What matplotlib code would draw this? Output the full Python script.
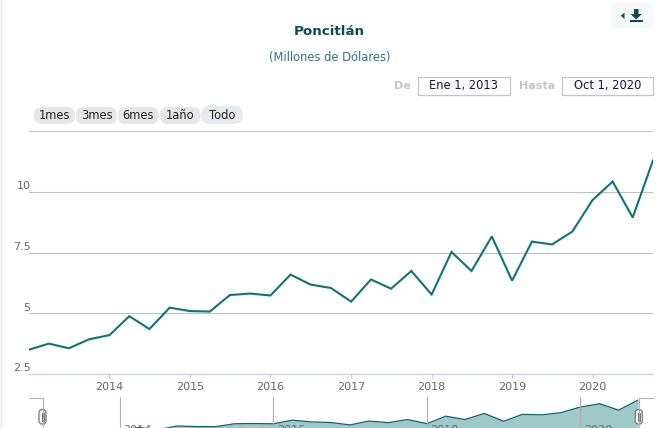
import matplotlib
matplotlib.use('Agg')
import matplotlib.pyplot as plt
import matplotlib.dates as mdates
import pandas as pd
from matplotlib.patches import FancyBboxPatch, Polygon, Rectangle

W, H = 659, 428

# valores trimestrales, ene 2013 a oct 2020
fechas = pd.date_range('2013-01-01', '2020-10-01', freq='QS')
valores = [3.50, 3.75, 3.56, 3.93, 4.10, 4.88, 4.35, 5.23,
           5.09, 5.07, 5.75, 5.81, 5.73, 6.59, 6.18, 6.04,
           5.48, 6.39, 6.01, 6.74, 5.77, 7.52, 6.74, 8.16,
           6.34, 7.95, 7.83, 8.36, 9.66, 10.42, 8.94, 11.29]

y_ticks = [2.5, 5, 7.5, 10, 12.5]
y_labels = ['2.5', '5', '7.5', '10', '']
x_years = [2014, 2015, 2016, 2017, 2018, 2019, 2020]
nav_years = [2014, 2016, 2018, 2020]
botones = ['1mes', '3mes', '6mes', '1año', 'Todo']

VERDE = '#0f7378'
GRID = '#c0c0c0'
EJE = '#c0d0e0'
TXT = '#666666'


def caja(x0, y0, x1, y1):
    # pixeles de la imagen a coordenadas de figura
    return [x0 / W, 1 - y1 / H, (x1 - x0) / W, (y1 - y0) / H]


fig = plt.figure(figsize=(W / 100, H / 100), dpi=100, facecolor='white')

# capa de fondo en pixeles para la tarjeta y los controles
ui = fig.add_axes([0, 0, 1, 1], zorder=0)
ui.set_xlim(0, W)
ui.set_ylim(H, 0)
ui.axis('off')

ui.add_patch(FancyBboxPatch((1.5, -8), W + 10, H + 30, boxstyle='round,pad=0,rounding_size=7',
                            fc='white', ec='#e8e8e8', lw=1.2))

ui.text(329.5, 31.5, 'Poncitlán', ha='center', va='center', fontsize=9.7, fontweight='bold', color='#0b4a55')
ui.text(330, 57.5, '(Millones de Dólares)', ha='center', va='center', fontsize=8.3, color='#2f7480')

# boton de descarga
ui.add_patch(FancyBboxPatch((611, 3), 42, 25, boxstyle='round,pad=0,rounding_size=3', fc='#f6f7f8', ec='none'))
ui.add_patch(Polygon([(624.5, 12.5), (624.5, 19), (620.8, 15.8)], fc='#0b4a55', ec='none'))
ui.add_patch(Polygon([(634, 9), (638.5, 9), (638.5, 14), (642, 14), (636.2, 19.5), (630.5, 14), (634, 14)],
                     fc='#0b4a55', ec='none'))
ui.add_patch(Rectangle((630, 19.5), 12.5, 2.3, fc='#0b4a55', ec='none'))

# selector de fechas
ui.text(402, 85.5, 'De', ha='center', va='center', fontsize=8, fontweight='bold', color='#c4c4c4')
ui.text(537.5, 85.5, 'Hasta', ha='center', va='center', fontsize=8, fontweight='bold', color='#c4c4c4')
for x0, x1, s in [(417.5, 509.5, 'Ene 1, 2013'), (561.5, 653, 'Oct 1, 2020')]:
    ui.add_patch(Rectangle((x0, 76.5), x1 - x0, 18, fc='white', ec='#c4c4c4', lw=0.9))
    ui.text((x0 + x1) / 2, 85.5, s, ha='center', va='center', fontsize=8.3, color='#15153c')

# botones de rango
for i, b in enumerate(botones):
    x0 = 34 + i * 41.9
    color = '#e4ebf0' if b == 'Todo' else '#e6e6e6'
    y0 = 106 if b == 'Todo' else 107
    ui.add_patch(FancyBboxPatch((x0, y0), 41, 124 - y0, boxstyle='round,pad=0,rounding_size=8', fc=color, ec='none'))
    ui.text(x0 + 20.5, 115.5, b, ha='center', va='center', fontsize=8.3, color='#222222')

# grafica principal
ax = fig.add_axes(caja(29, 131, 653, 374), zorder=1)
ax.patch.set_alpha(0)
ax.plot(fechas, valores, color=VERDE, lw=1.5, solid_joinstyle='miter', clip_on=True)
ax.set_xlim(fechas[0], fechas[-1])
ax.set_ylim(2.5, 12.5)
ax.set_yticks(y_ticks)
ax.set_yticklabels([])
ax.tick_params(axis='y', length=0)
ax.grid(axis='y', color=GRID, lw=0.8)
ax.set_axisbelow(True)
for s in ['top', 'right', 'left']:
    ax.spines[s].set_visible(False)
ax.spines['bottom'].set_color(EJE)
ax.spines['bottom'].set_linewidth(0.8)
ax.set_xticks([pd.Timestamp(f'{y}-01-01') for y in x_years])
ax.tick_params(axis='x', length=3, width=0.8, color=EJE, labelcolor=TXT, labelsize=8, pad=2.5)
ax.xaxis.set_major_formatter(mdates.DateFormatter('%Y'))

for v, s in zip(y_ticks, y_labels):
    ax.annotate(s, (0, v), xycoords=('axes fraction', 'data'), xytext=(1, 0.5), textcoords='offset points',
                ha='right', va='bottom', fontsize=8, color=TXT)

# navegador
nav = fig.add_axes(caja(43, 397, 638, 428), zorder=1)
nav.patch.set_alpha(0)
nav.fill_between(fechas, valores, 0, color='#9fc8c9', lw=0)
nav.plot(fechas, valores, color='#11606a', lw=0.9)
nav.set_xlim(fechas[0], fechas[-1])
nav.set_ylim(4.76, 12.0)
nav.set_yticks([])
nav.set_xticks([pd.Timestamp(f'{y}-01-01') for y in nav_years])
nav.set_xticklabels([])
nav.tick_params(axis='x', length=0)
nav.grid(axis='x', color='#b0b0b0', lw=0.8)
nav.set_axisbelow(False)
for s in nav.spines.values():
    s.set_visible(False)
for y in nav_years:
    nav.annotate(str(y), (pd.Timestamp(f'{y}-01-01'), 0), xycoords=('data', 'axes fraction'), xytext=(2.5, -5),
                 textcoords='offset points', ha='left', va='bottom', fontsize=8, color=TXT, annotation_clip=False)

# marco y asas del navegador
top = fig.add_axes([0, 0, 1, 1], zorder=2)
top.set_xlim(0, W)
top.set_ylim(H, 0)
top.axis('off')
top.plot([29, 43, 43], [397.5, 397.5, 428], color='#b4b4b4', lw=0.8)
top.plot([653, 638.5, 638.5], [397.5, 397.5, 428], color='#b4b4b4', lw=0.8)
for xc in [42.5, 638.8]:
    top.add_patch(FancyBboxPatch((xc - 3.5, 409.5), 7, 14.5, boxstyle='round,pad=0,rounding_size=3',
                                 fc='white', ec='#777777', lw=0.9))
    top.plot([xc - 1, xc - 1], [413, 421], color='#777777', lw=0.8)
    top.plot([xc + 1, xc + 1], [413, 421], color='#777777', lw=0.8)

fig.savefig('out.png', dpi=100)
